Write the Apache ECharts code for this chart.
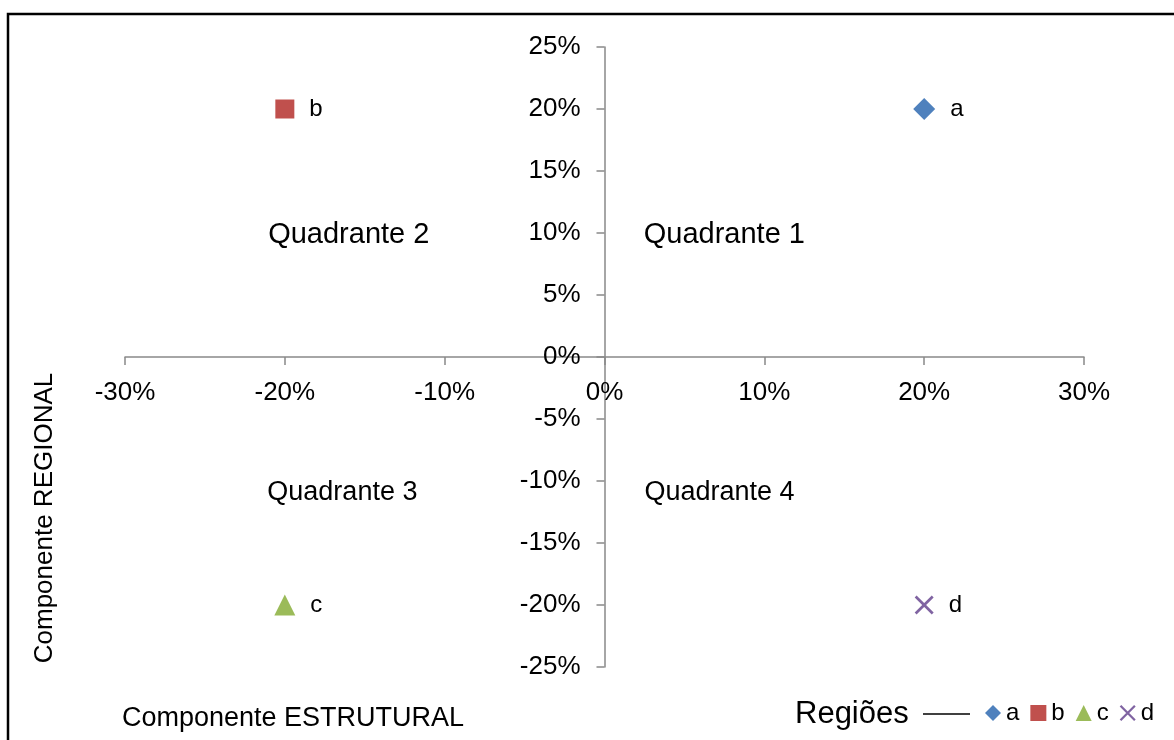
<!DOCTYPE html>
<html>
<head>
<meta charset="utf-8">
<script src="https://cdn.jsdelivr.net/npm/echarts@6/dist/echarts.min.js"></script>
<style>
  html, body { margin: 0; padding: 0; background: #fff; }
  #chart { width: 1174px; height: 740px; }
</style>
</head>
<body>
<div id="chart"></div>
<script>
// regiões: componente estrutural (x) e regional (y), em %
const regions = ['a', 'b', 'c', 'd'];
const structural = [20, -20, -20, 20];
const regional = [20, 20, -20, -20];
const regionColors = ['#4F81BD', '#C0504D', '#9BBB59', '#8064A2'];

// rótulos dos quadrantes
const quadrantNames = ['Quadrante 1', 'Quadrante 2', 'Quadrante 3', 'Quadrante 4'];
const quadrantX = [7.5, -16, -16.4, 7.2];
const quadrantY = [9.8, 9.8, -10.9, -10.9];
const quadrantSize = [29, 29, 27, 27];

const FONT = '"Liberation Sans", Arial, sans-serif';
const crossPath = 'path://M0,1L1,0L10,9L9,10Z M9,0L10,1L1,10L0,9Z';
const symbols = ['diamond', 'rect', 'triangle', crossPath];
const symbolSizes = [22, 19, 21, 19];

let chart = echarts.init(document.getElementById('chart'), null, {renderer: 'canvas'});

let series = regions.map((name, i) => {
  return {
    name: name,
    type: 'scatter',
    symbol: symbols[i],
    symbolSize: symbolSizes[i],
    itemStyle: {color: regionColors[i], opacity: 1},
    data: [[structural[i], regional[i]]],
    label: {
      show: true,
      position: 'right',
      distance: 15,
      formatter: name,
      color: '#000',
      fontSize: 24,
      fontFamily: FONT,
      padding: [4, 0, 0, 0]
    },
    z: 3
  };
});

series.push({
  name: 'quadrantes',
  type: 'scatter',
  symbolSize: 0,
  silent: true,
  itemStyle: {opacity: 1},
  data: quadrantNames.map((q, i) => ({
    value: [quadrantX[i], quadrantY[i]],
    label: {
      show: true,
      position: 'inside',
      formatter: q,
      color: '#000',
      fontSize: quadrantSize[i],
      fontFamily: FONT
    }
  }))
});

let axisGray = '#898989';

let option = {
  backgroundColor: '#fff',
  animation: false,
  grid: {left: 125, right: 90, top: 47, bottom: 73},
  xAxis: {
    type: 'value',
    min: -30,
    max: 30,
    interval: 10,
    position: 'bottom',
    offset: -310, // eixo passa pelo zero
    splitLine: {show: false},
    axisLine: {onZero: false, lineStyle: {color: axisGray, width: 1.5}},
    axisTick: {show: true, length: 8, lineStyle: {color: axisGray, width: 1.5}},
    axisLabel: {
      formatter: v => v + '%',
      color: '#000',
      fontSize: 26,
      fontFamily: FONT,
      margin: 23
    }
  },
  yAxis: {
    type: 'value',
    min: -25,
    max: 25,
    interval: 5,
    position: 'left',
    offset: -479.5,
    splitLine: {show: false},
    axisLine: {onZero: false, lineStyle: {color: axisGray, width: 1.5}},
    axisTick: {show: true, length: 8, lineStyle: {color: axisGray, width: 1.5}},
    axisLabel: {
      formatter: v => v + '%',
      color: '#000',
      fontSize: 26,
      fontFamily: FONT,
      margin: 24,
      padding: [4, 0, 0, 0]
    }
  },
  legend: {
    data: regions.map((name, i) => ({name: name, icon: symbols[i]})),
    left: 985,
    top: 701,
    padding: 0,
    itemWidth: 16,
    itemHeight: 16,
    itemGap: 11,
    textStyle: {color: '#000', fontSize: 24, fontFamily: FONT}
  },
  graphic: [
    {
      type: 'rect',
      shape: {x: 8, y: 14, width: 1250, height: 800},
      style: {fill: 'none', stroke: '#000', lineWidth: 2.5},
      silent: true
    },
    {
      type: 'text',
      x: 45,
      y: 518,
      rotation: Math.PI / 2,
      style: {
        text: 'Componente REGIONAL',
        fill: '#000',
        font: '26px ' + FONT,
        align: 'center',
        verticalAlign: 'middle'
      }
    },
    {
      type: 'text',
      x: 293,
      y: 719,
      style: {
        text: 'Componente ESTRUTURAL',
        fill: '#000',
        font: '27px ' + FONT,
        align: 'center',
        verticalAlign: 'middle'
      }
    },
    {
      type: 'text',
      x: 795,
      y: 714,
      style: {
        text: 'Regiões',
        fill: '#000',
        font: '31px ' + FONT,
        align: 'left',
        verticalAlign: 'middle'
      }
    },
    {
      type: 'line',
      shape: {x1: 923, y1: 714, x2: 970, y2: 714},
      style: {stroke: '#000', lineWidth: 1.5}
    }
  ],
  series: series
};

chart.setOption(option);
</script>
</body>
</html>
